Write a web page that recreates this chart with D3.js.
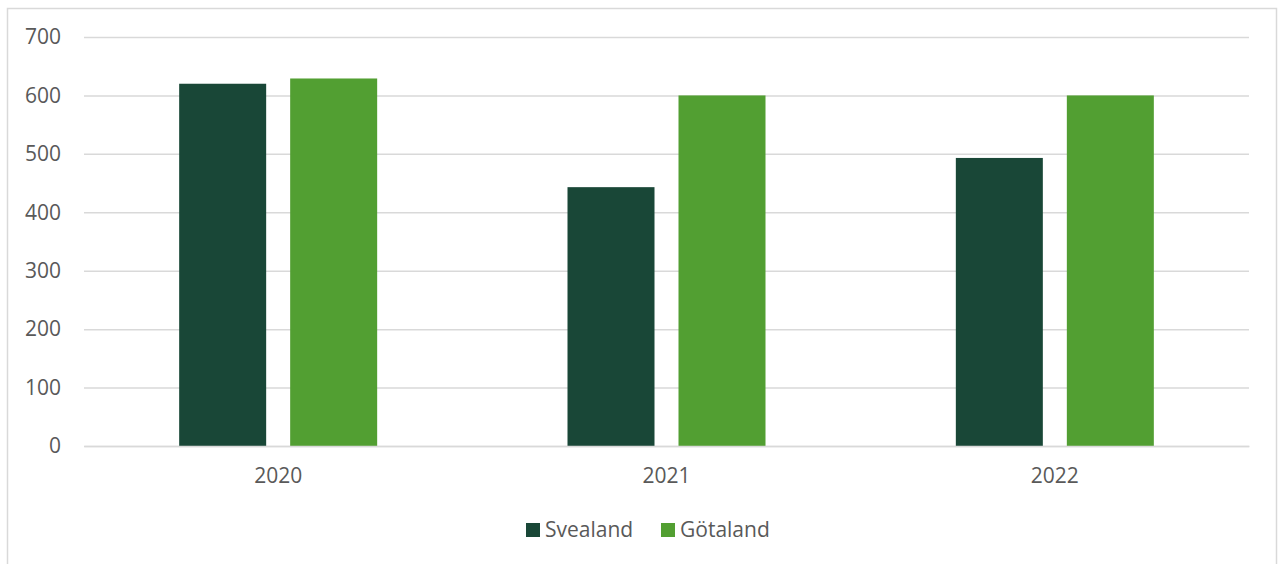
<!DOCTYPE html>
<html><head><meta charset="utf-8">
<script src="https://cdn.jsdelivr.net/npm/d3@7"></script>
<style>body{margin:0;background:#fff}svg{display:block}text{font-family:"Open Sans",sans-serif;fill:#595959}</style>
</head><body>
<script>
const years = ["2020","2021","2022"];
const seriesNames = ["Svealand","Götaland"];
const svealand = [620,443,493];
const gotaland = [629,600,600];
const yTicks = [0,100,200,300,400,500,600,700];
const colors = ["#194737","#529F32"];

(function(){
const W=1280,H=564;
const svg=d3.select("body").append("svg").attr("width",W).attr("height",H);
svg.append("rect").attr("x",7.5).attr("y",8.5).attr("width",1269).attr("height",H).attr("fill","#fff").attr("stroke","#d9d9d9").attr("stroke-width",1.5);

const mL=84,mR=1249,mT=37,mB=446;
const y=d3.scaleLinear().domain([0,700]).range([mB,mT]);
const x=d3.scaleBand().domain(years).range([mL,mR]).paddingInner(0).paddingOuter(0);
const barW=87, gap=24;
const xs=d3.scaleOrdinal().domain(seriesNames).range([-(barW+gap/2), gap/2]);

const yAxis=d3.axisLeft(y).tickValues(yTicks).tickSize(-(mR-mL)).tickPadding(23);
const gy=svg.append("g").attr("transform",`translate(${mL},0)`).call(yAxis);
gy.select(".domain").remove();
gy.selectAll(".tick line").attr("stroke","#d9d9d9").attr("stroke-width",1.5);
gy.selectAll(".tick text").attr("font-size",21).style("fill","#595959").style("font-family","'Open Sans',sans-serif");

const data=years.map((yr,i)=>({yr,vals:[svealand[i],gotaland[i]]}));
const g=svg.append("g");
data.forEach(d=>{
  d.vals.forEach((v,j)=>{
    const cx=x(d.yr)+x.bandwidth()/2;
    g.append("rect").attr("x",cx+xs(seriesNames[j])).attr("width",barW)
     .attr("y",y(v)).attr("height",y(0)-y(v)).attr("fill",colors[j]);
  });
});

const xAxis=d3.axisBottom(x).tickSize(0).tickPadding(22);
const gx=svg.append("g").attr("transform",`translate(0,${mB})`).call(xAxis);
gx.select(".domain").attr("stroke","#d9d9d9").attr("stroke-width",1.5);
gx.selectAll(".tick text").attr("font-size",21).style("fill","#595959").style("font-family","'Open Sans',sans-serif");

const leg=svg.append("g");
const legX=[526,661];
seriesNames.forEach((n,i)=>{
  leg.append("rect").attr("x",legX[i]).attr("y",523).attr("width",14).attr("height",14).attr("fill",colors[i]);
  leg.append("text").attr("x",legX[i]+19).attr("y",530).attr("dy","0.35em").attr("font-size",21).text(n);
});
})();
</script>
</body></html>
